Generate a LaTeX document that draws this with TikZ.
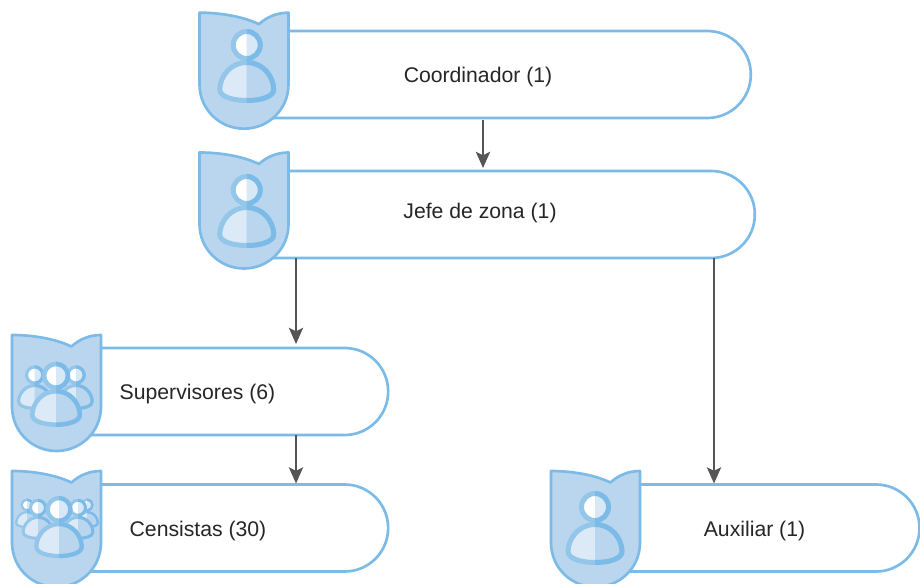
\documentclass[tikz,border=0pt]{standalone}
\usepackage{fontspec}
\setmainfont{Liberation Sans}
\usetikzlibrary{shapes.misc,arrows.meta,calc}

\definecolor{edgeblue}{HTML}{7CBBE7}
\definecolor{shieldfill}{HTML}{B9D6EE}
\definecolor{ringlight}{HTML}{94C6EA}
\definecolor{bodylight}{HTML}{DCEAF7}
\definecolor{arrowgrey}{HTML}{555555}

\newcommand{\headpath}{(0,-15) circle[radius=13.5]}
\newcommand{\bodypath}{(0,2.5) .. controls (-16,2.5) and (-26.5,16) .. (-27,29) .. controls (-27.5,37) and (-13,40.5) .. (0,40.5) .. controls (13,40.5) and (27.5,37) .. (27,29) .. controls (26.5,16) and (16,2.5) .. (0,2.5) -- cycle}

\tikzset{
  pill/.style = {rounded rectangle, rounded rectangle west arc=none, draw=edgeblue,
    line width=2pt, fill=white, outer sep=0pt, inner sep=0pt, minimum height=65.25pt},
  lbl/.style = {font=\fontsize{15.9}{19}\selectfont, text=black!85, inner sep=0pt},
  flow/.style = {->, arrowgrey, line width=2.2pt},
  shield/.pic = {
    \draw[edgeblue, line width=2pt, fill=shieldfill, line join=round]
      (-44.5,0) .. controls (-26,0) and (-3,3) .. (15,11.5)
      .. controls (22,5) and (32,0) .. (44.5,0) -- (44.5,71.5)
      .. controls (44.5,97) and (24,116) .. (0,116)
      .. controls (-24,116) and (-44.5,97) .. (-44.5,71.5) -- cycle;
  },
  person/.pic = {
    \draw[ringlight, fill=white] \headpath;
    \draw[ringlight, fill=bodylight] \bodypath;
    \begin{scope}
      \clip (0,-40) rectangle (40,50);
      \draw[edgeblue, fill=shieldfill!55] \headpath;
      \draw[edgeblue, fill=shieldfill] \bodypath;
    \end{scope}
  }
}

\begin{document}
\begin{tikzpicture}[x=0.75pt, y=-0.75pt, >={Stealth[length=12pt,width=10.5pt,inset=2.5pt]}]
  \useasboundingbox (0,0) rectangle (920,584);
  \clip (0,0) rectangle (920,584);

  % cajas
  \node[pill, minimum width=380pt] (coord) at (497.5,74.5) {};
  \node[pill, minimum width=383pt] (jefe) at (499.5,214.5) {};
  \node[pill, minimum width=244pt] (sup) at (225.5,391.5) {};
  \node[pill, minimum width=244pt] (cens) at (225.5,528) {};
  \node[pill, minimum width=243pt] (aux) at (757.5,528) {};

  % textos
  \node[lbl] (coordlbl) at (478,77.5) {Coordinador (1)};
  \node[lbl] (jefelbl) at (480,213.5) {Jefe de zona (1)};
  \node[lbl] (suplbl) at (197.5,394.5) {Supervisores (6)};
  \node[lbl] (censlbl) at (198,531.5) {Censistas (30)};
  \node[lbl] (auxlbl) at (754.5,531.5) {Auxiliar (1)};

  % escudos
  \pic at (244,12.7) {shield};
  \pic[line width=3.75pt] at (246.7,60) {person};
  \pic at (244,152.5) {shield};
  \pic[line width=3.75pt] at (246.7,205) {person};

  \pic at (56.5,335) {shield};
  \pic[scale=0.6, line width=2.4pt] at (34.7,384) {person};
  \pic[scale=0.6, line width=2.4pt] at (76,384) {person};
  \pic[scale=0.88, line width=3.4pt] at (56,389) {person};

  \pic at (56.5,471) {shield};
  \pic[scale=0.4, line width=1.7pt] at (27,511) {person};
  \pic[scale=0.4, line width=1.7pt] at (87,511) {person};
  \pic[scale=0.55, line width=2.2pt] at (38,516) {person};
  \pic[scale=0.55, line width=2.2pt] at (78,516) {person};
  \pic[scale=0.84, line width=3.2pt] at (59,522) {person};

  \pic at (595.5,471) {shield};
  \pic[line width=3.75pt] at (595,522) {person};

  % flechas
  \draw[flow] ($(coord.south)+(-14.5,2)$) -- ($(jefe.north)+(-16.5,-3)$);
  \draw[flow] ($(jefe.south)+(-203.5,0)$) -- ($(sup.north)+(70.5,-4)$);
  \draw[flow] ($(sup.south)+(70.5,0)$) -- ($(cens.north)+(70.5,-1)$);
  \draw[flow] ($(jefe.south)+(214.5,0)$) -- ($(aux.north)+(-43.5,-1)$);
\end{tikzpicture}
\end{document}
